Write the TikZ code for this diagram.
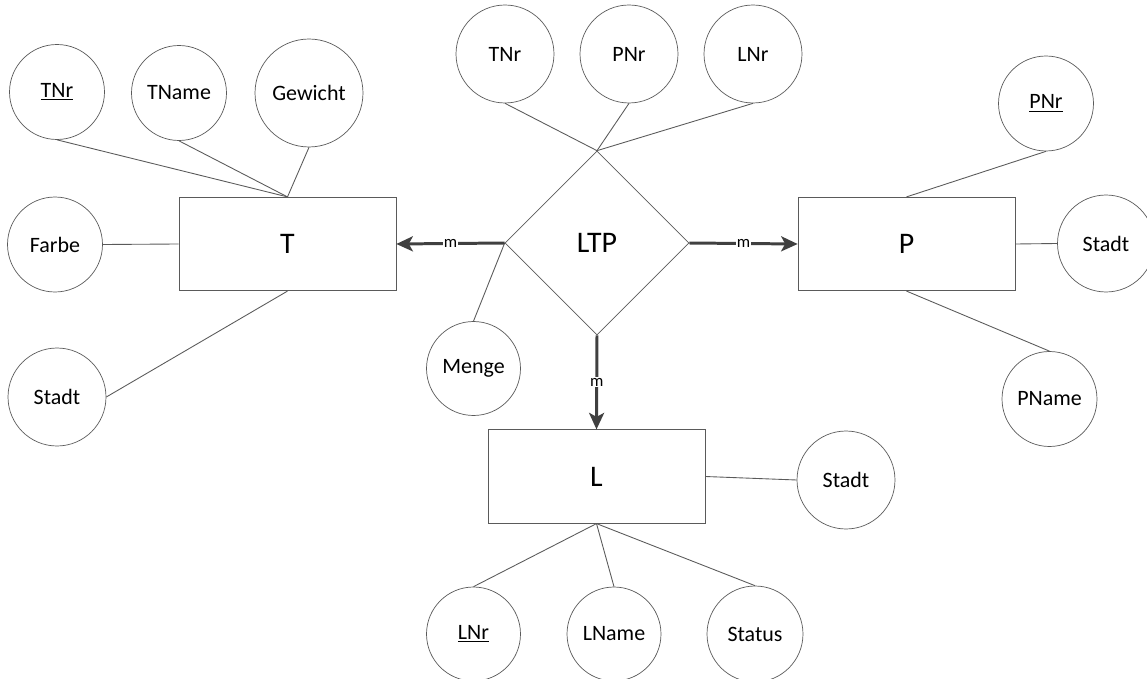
\documentclass[tikz,border=0pt]{standalone}
\usepackage{fontspec}
\setmainfont{Carlito}
\usepackage{xcolor}
\usepackage{tikz}
\usetikzlibrary{shapes.geometric}
\usetikzlibrary{arrows.meta}

\definecolor{linegray}{HTML}{5A5A5A}
\definecolor{arrowgray}{HTML}{404040}

\begin{document}
\begin{tikzpicture}[
    x=0.02cm, y=-0.02cm,
    attr/.style = {
        draw=linegray, circle, minimum size=1.9cm, inner sep=0pt,
        font=\fontsize{12.5}{14}\selectfont
    },
    entity/.style = {
        draw=linegray, rectangle, minimum width=4.34cm, minimum height=1.87cm,
        inner sep=0pt, font=\fontsize{17}{20}\selectfont
    },
    relation/.style = {
        draw=linegray, diamond, minimum width=3.68cm, minimum height=3.68cm,
        inner sep=0pt, font=\fontsize{17}{20}\selectfont
    },
    link/.style = {draw=linegray, line width=0.5pt},
    card/.style = {
        draw=arrowgray, line width=1.7pt,
        -{Stealth[length=3.3mm, width=3mm, inset=0.8mm]}
    },
    mult/.style = {
        fill=white, inner sep=0.5pt, font=\fontsize{9.5}{10}\selectfont
    }
]
\useasboundingbox (0,0) rectangle (1147,679);

\node[entity] (T) at (287.5,244) {T};
\node[entity] (P) at (906.5,244) {P};
\node[entity] (L) at (596.5,476.5) {L};
\node[relation] (LTP) at (597,243) {LTP};

\node[attr] (tnr) at (57,92) {\underline{TNr}};
\node[attr] (tname) at (179,93) {TName};
\node[attr, minimum size=2.16cm] (gewicht) at (309,93) {Gewicht};
\node[attr] (farbe) at (55,244.5) {Farbe};
\node[attr, minimum size=1.96cm] (tstadt) at (57,397) {Stadt};

\node[attr, minimum size=1.96cm] (ltptnr) at (505,54) {TNr};
\node[attr, minimum size=1.96cm] (ltppnr) at (629,54) {PNr};
\node[attr, minimum size=1.96cm] (ltplnr) at (753,54) {LNr};
\node[attr, minimum size=1.88cm] (menge) at (473.5,368.5) {Menge};

\node[attr] (pnr) at (1046,103.5) {\underline{PNr}};
\node[attr, minimum size=1.94cm] (pstadt) at (1106,243.5) {Stadt};
\node[attr] (pname) at (1049.5,399) {PName};

\node[attr, minimum size=1.96cm] (lstadt) at (846,480) {Stadt};
\node[attr, minimum size=1.88cm] (lnr) at (473.5,634) {\underline{LNr}};
\node[attr, minimum size=1.88cm] (lname) at (614,634) {LName};
\node[attr, minimum size=1.92cm] (status) at (755,634) {Status};

\draw[link] (tnr.south) -- (T.north);
\draw[link] (tname.south) -- (T.north);
\draw[link] (gewicht.south) -- (T.north);
\draw[link] (farbe.east) -- (T.west);
\draw[link] (tstadt.east) -- (T.south);

\draw[link] (ltptnr.south) -- (LTP.north);
\draw[link] (ltppnr.south) -- (LTP.north);
\draw[link] (ltplnr.south) -- (LTP.north);
\draw[link] (menge.north) -- (LTP.west);

\draw[link] (pnr.south) -- (P.north);
\draw[link] (pstadt.west) -- (P.east);
\draw[link] (pname.north) -- (P.south);

\draw[link] (L.east) -- (lstadt.west);
\draw[link] (lnr.north) -- (L.south);
\draw[link] (lname.north) -- (L.south);
\draw[link] (status.north) -- (L.south);

\draw[card] (LTP.west) -- node[mult] {m} (T.east);
\draw[card] (LTP.east) -- node[mult] {m} (P.west);
\draw[card] (LTP.south) -- node[mult] {m} (L.north);
\end{tikzpicture}
\end{document}
